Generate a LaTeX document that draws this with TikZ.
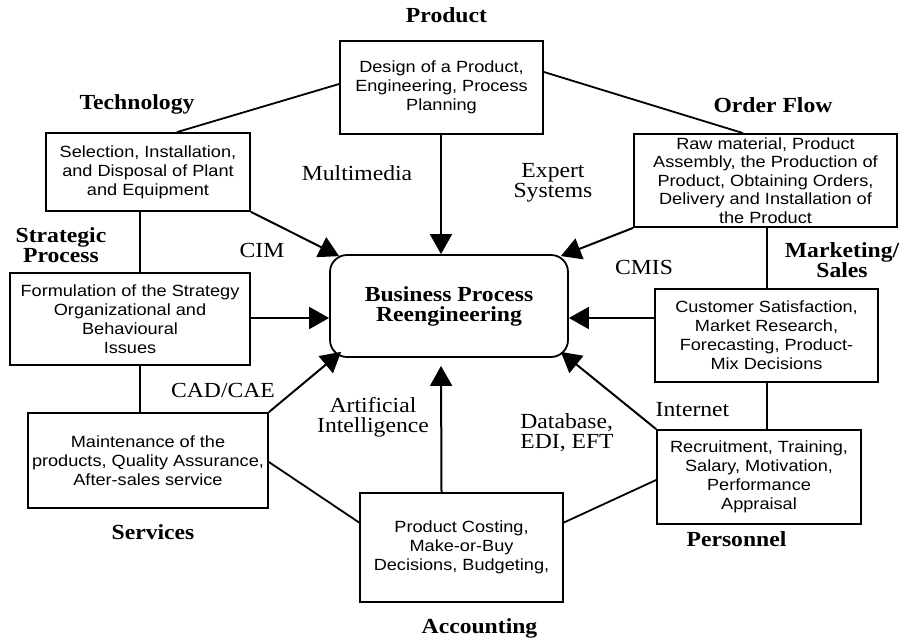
\documentclass[tikz,border=0pt]{standalone}
\usepackage{fontspec}
\setmainfont[FakeStretch=1.1]{Liberation Serif}
\setsansfont[FakeStretch=1.12]{Liberation Sans}
\usetikzlibrary{arrows.meta}
\tikzset{
  boxnode/.style={draw, line width=1.8pt, rectangle, inner sep=0pt, align=center,
    font=\sffamily\fontsize{16.2}{19}\selectfont},
  headlabel/.style={inner sep=0pt, align=center, font=\bfseries\fontsize{21.5}{20}\selectfont},
  toollabel/.style={inner sep=0pt, align=center, font=\fontsize{21.5}{20}\selectfont},
  link/.style={line width=1.8pt},
  flow/.style={line width=2pt, -{Triangle[length=20pt,width=22pt]}}
}
\begin{document}
\begin{tikzpicture}[x=1pt,y=-1pt]
\useasboundingbox (0,0) rectangle (901,640);
% boxes
\node[boxnode, minimum width=203pt, minimum height=93pt] (prod) at (441.5,87.5)
  {Design of a Product,\\Engineering, Process\\Planning};
\node[boxnode, minimum width=204pt, minimum height=78pt] (tech) at (148,172)
  {Selection, Installation,\\and Disposal of Plant\\and Equipment};
\node[boxnode, minimum width=263pt, minimum height=93pt, font=\sffamily\fontsize{16.2}{18.5}\selectfont] (order) at (765.5,180.5)
  {Raw material, Product\\Assembly, the Production of\\Product, Obtaining Orders,\\Delivery and Installation of\\the Product};
\node[boxnode, minimum width=240pt, minimum height=92pt] (strat) at (130,319)
  {Formulation of the Strategy\\Organizational and\\Behavioural\\Issues};
\node[boxnode, minimum width=223pt, minimum height=93pt] (mkt) at (766.5,335.5)
  {Customer Satisfaction,\\Market Research,\\Forecasting, Product-\\Mix Decisions};
\node[boxnode, minimum width=240pt, minimum height=95pt] (serv) at (148,460.5)
  {Maintenance of the\\products, Quality Assurance,\\After-sales service};
\node[boxnode, minimum width=203pt, minimum height=109pt] (acc) at (461.5,547.5)
  {Product Costing,\\Make-or-Buy\\Decisions, Budgeting,};
\node[boxnode, minimum width=204pt, minimum height=94pt] (pers) at (759,477)
  {Recruitment, Training,\\Salary, Motivation,\\Performance\\Appraisal};
\node[draw, line width=1.8pt, rounded corners=17pt, minimum width=238pt, minimum height=102pt,
  inner sep=0pt, align=center, font=\bfseries\fontsize{21.5}{20}\selectfont] (bpr) at (449,306)
  {Business Process\\Reengineering};
% area labels
\node[headlabel] (lprod) at (446.5,15) {Product};
\node[headlabel] (ltech) at (137,104) {Technology};
\node[headlabel] (lorder) at (773,105) {Order Flow};
\node[headlabel] (lstrat) at (61,245) {Strategic\\Process};
\node[headlabel] (lmkt) at (842,260) {Marketing/\\Sales};
\node[headlabel] (lserv) at (153,532) {Services};
\node[headlabel] (lacc) at (479.5,628) {Accounting};
\node[headlabel] (lpers) at (736.5,539) {Personnel};
% tool labels
\node[toollabel] (tmm) at (357,173) {Multimedia};
\node[toollabel] (tes) at (553,183) {Expert\\Systems};
\node[toollabel] (tcim) at (262,250) {CIM};
\node[toollabel] (tcmis) at (644,267) {CMIS};
\node[toollabel] (tcad) at (223,390) {CAD/CAE};
\node[toollabel] (tai) at (373,417) {Artificial\\Intelligence};
\node[toollabel, align=left] (tdb) at (567,433) {Database,\\EDI, EFT};
\node[toollabel] (tnet) at (692.5,410) {Internet};
% ring connectors
\draw[link] ([yshift=3.5]prod.west) -- ([xshift=29]tech.north);
\draw[link] ([yshift=15.5]prod.east) -- ([xshift=-22.5]order.north);
\draw[link] ([xshift=-8]tech.south) -- ([xshift=10]strat.north);
\draw[link] ([xshift=10]strat.south) -- ([xshift=-8]serv.north);
\draw[link] ([xshift=1.5]order.south) -- ([xshift=0.5]mkt.north);
\draw[link] ([xshift=0.5]mkt.south) -- ([xshift=8]pers.north);
\draw[link] ([yshift=-1.5]serv.east) -- ([yshift=25]acc.west);
\draw[link] ([yshift=25]acc.east) -- ([yshift=-3]pers.west);
% flows into BPR
\draw[flow] ([xshift=-0.5]prod.south) -- ([xshift=-8]bpr.north);
\draw[flow] (tech.south east) -- ([xshift=10,yshift=-2]bpr.north west);
\draw[flow] (order.south west) -- ([xshift=-8,yshift=-2]bpr.north east);
\draw[flow] ([yshift=1]strat.east) -- ([yshift=-12]bpr.west);
\draw[flow] ([yshift=17.5]mkt.west) -- ([yshift=-12]bpr.east);
\draw[flow] (serv.north east) -- ([xshift=12,yshift=6]bpr.south west);
\draw[flow] ([xshift=-20]acc.north) -- ([xshift=-8,yshift=-8]bpr.south);
\draw[flow] (pers.north west) -- ([xshift=-8,yshift=6]bpr.south east);
\end{tikzpicture}
\end{document}
